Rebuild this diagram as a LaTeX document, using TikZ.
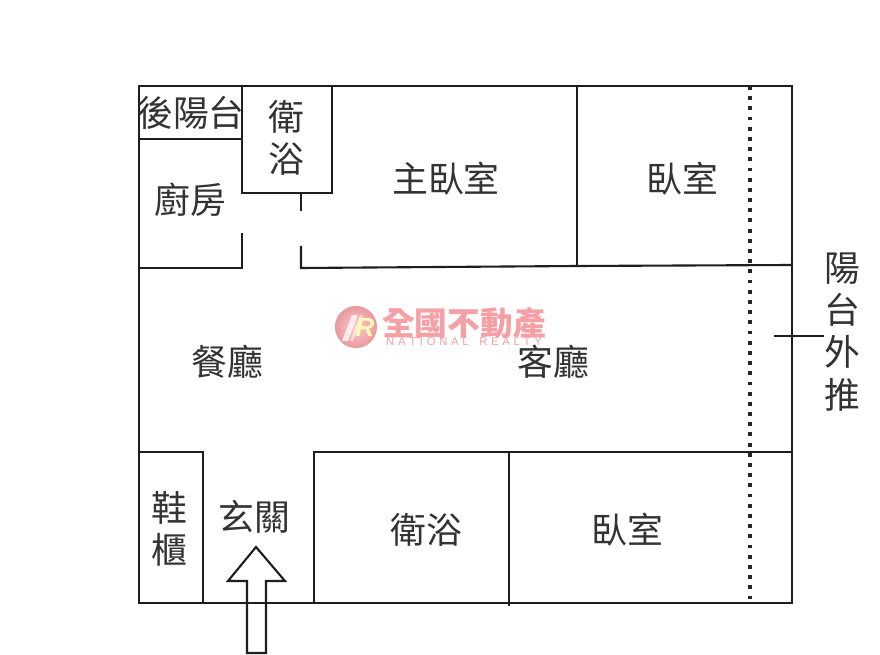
\documentclass[tikz,border=0pt]{standalone}
\usepackage{fontspec}
\setmainfont{Liberation Sans}
\newfontfamily\cjk{Noto Sans CJK TC}
\definecolor{wallc}{RGB}{30,30,30}
\definecolor{logoc}{RGB}{246,160,165}
\tikzset{
	wall/.style={draw=wallc,line width=1.2pt,line join=miter},
	room/.style={font=\cjk\fontsize{20.4}{21}\selectfont,text=black!80,inner sep=0pt,align=center},
}
\begin{document}
\begin{tikzpicture}[x=0.02cm,y=-0.02cm]
		\useasboundingbox (0,0) rectangle (880,655);
		\fill[white] (0,0) rectangle (880,655);
		% walls
		\draw[wall] (139,86) rectangle (792,603);
		\draw[wall] (139,139) -- (242,139);
		\draw[wall] (242,86) -- (242,193) -- (332,193) -- (332,86);
		\draw[wall] (301,193) -- (301,211);
		\draw[wall] (242,233) -- (242,268) -- (139,268);
		\draw[wall] (301,246) -- (301,268) -- (577,266) -- (792,265);
		\draw[wall] (577,86) -- (577,266);
		\draw[wall] (139,452) -- (203,452) -- (203,603);
		\draw[wall] (314,603) -- (314,452) -- (792,452);
		\draw[wall] (509,452) -- (509,606);
		% balcony line
		\draw[black!85,line width=2.2pt,dash pattern=on 2.2pt off 3.6pt] (750,86) -- (750,603);
		% entrance arrow
		\draw[wall] (256,547) -- (228,581) -- (247,581) -- (247,653) -- (266,653) -- (266,581) -- (285,581) -- cycle;
		% logo
		\shade[inner color=logoc!55,outer color=logoc!95!black] (356,327) circle[radius=21];
		\fill[white,opacity=.75] (342,341) -- (348,341) -- (358,315) -- (352,315) -- cycle;
		\fill[white,opacity=.5] (350,341) -- (353,341) -- (363,315) -- (360,315) -- cycle;
		\node[inner sep=0pt,text=white!70!yellow,font=\bfseries\itshape\fontsize{15}{15}\selectfont] (logoR) at (365,327) {R};
		\node[inner sep=0pt,text=logoc,font=\cjk\bfseries\fontsize{18.6}{19}\selectfont] (logoName) at (464,323) {全國不動產};
		\node[inner sep=0pt,text=logoc,font=\fontsize{6.4}{6}\selectfont] (logoSub) at (464,342) {N\,\,A\,\,T\,\,I\,\,O\,\,N\,\,A\,\,L\,\,\,\, R\,\,E\,\,A\,\,L\,\,T\,\,Y};
		% rooms
		\node[room] (backBalcony) at (191,113) {後陽台};
		\node[room] (bathA) at (286,138) {衛\\[3pt]浴};
		\node[room] (kitchen) at (190,200) {廚房};
		\node[room] (master) at (446,179) {主臥室};
		\node[room] (bedA) at (682,179) {臥室};
		\node[room] (dining) at (227,362) {餐廳};
		\node[room] (living) at (553,362) {客廳};
		\node[room] (shoes) at (169,529) {鞋\\[3pt]櫃};
		\node[room] (foyer) at (254,517) {玄關};
		\node[room] (bathB) at (426,530) {衛浴};
		\node[room] (bedB) at (627,530) {臥室};
		\node[room] (balcony) at (842,332) {陽\\[3pt]台\\[3pt]外\\[3pt]推};
		\coordinate (pointer) at (774,336);
		\draw[wall,line width=.8pt] (pointer) -- (balcony.west |- pointer);
		\end{tikzpicture}
\end{document}
